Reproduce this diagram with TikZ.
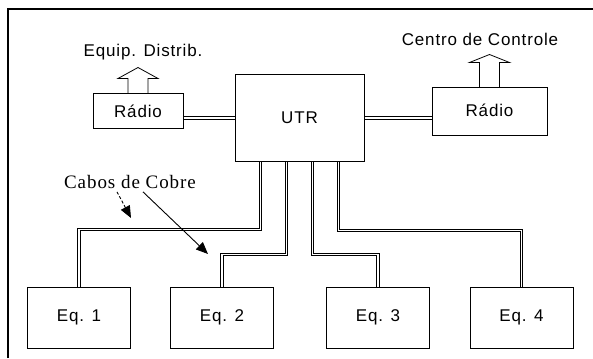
\documentclass[tikz,border=0pt]{standalone}
\usepackage{fontspec}
\setmainfont{Liberation Sans}
\newfontfamily\diagfont[LetterSpace=5]{Liberation Sans}
\newfontfamily\cobrefont[LetterSpace=5]{Liberation Serif}
\usepackage{tikz}
\usetikzlibrary{arrows.meta,positioning,calc}

\tikzset{
  box/.style={draw, line width=1pt, inner sep=0pt, font=\diagfont\fontsize{17}{19}\selectfont},
  eqbox/.style={box, minimum width=103pt, minimum height=61pt},
  cable/.style={draw, line width=0.8pt, double, double distance=1.6pt},
  hollow/.style={draw, line width=0.8pt, line join=miter},
  pointer/.style={line width=0.9pt, -{Triangle[length=12pt,width=10pt]}},
  lbl/.style={font=\diagfont\fontsize{17}{19}\selectfont, inner sep=0pt}
}

\begin{document}
\begin{tikzpicture}[x=1pt, y=-1pt]
\useasboundingbox (0,0) rectangle (593,358);
% frame
\draw[line width=1.3pt] (8,358) -- (8,9) -- (593,9);

% central unit and radios
\node[box, minimum width=129pt, minimum height=86pt] (utr) at (299.5,118) {UTR};
\node[box, minimum width=90pt, minimum height=35pt] (radioA) at (138,111.5) {Rádio};
\node[box, minimum width=115pt, minimum height=48pt] (radioB) at (489.5,112) {\raisebox{4pt}{Rádio}};

% hollow arrows
\draw[hollow] ([xshift=-10pt]radioA.north) -- ++(0,-15) -- ++(-10,0) -- ++(20,-11)
  -- ++(20,11) -- ++(-10,0) -- ([xshift=10pt]radioA.north);
\draw[hollow] ([xshift=-10pt]radioB.north) -- ++(0,-25) -- ++(-10,0) -- ++(20,-8)
  -- ++(20,8) -- ++(-10,0) -- ([xshift=10pt]radioB.north);
\node[lbl] (equip) at (143,52) {Equip. Distrib.};
\node[lbl] (centro) at (480,39) {Centro de Controle};

% links to radios
\draw[cable] (radioA.east |- utr.west) -- (utr.west);
\draw[cable] (utr.east) -- (utr.east -| radioB.west);

% equipment
\node[eqbox] (eq1) at (79,317.5) {Eq. 1};
\node[eqbox] (eq2) at (222,317.5) {Eq. 2};
\node[eqbox] (eq3) at (378,317.5) {Eq. 3};
\node[eqbox] (eq4) at (521.5,317.5) {Eq. 4};

% copper cables
\draw[cable] ([xshift=26pt]utr.south west) |- ([yshift=57pt]eq1.north) -- (eq1.north);
\draw[cable] ([xshift=52pt]utr.south west) |- ([yshift=32pt]eq2.north) -- (eq2.north);
\draw[cable] ([xshift=78pt]utr.south west) |- ([yshift=32pt]eq3.north) -- (eq3.north);
\draw[cable] ([xshift=104pt]utr.south west) |- ([yshift=56pt]eq4.north) -- (eq4.north);

% label for the cables
\node[inner sep=0pt, font=\cobrefont\fontsize{19}{21}\selectfont] (cabos) at (130,182) {Cabos de Cobre};
\coordinate (tipA) at (131,218);
\coordinate (tipB) at (208,254);
\draw[pointer, dash pattern=on 3pt off 2pt] ([xshift=-13pt,yshift=-3pt]cabos.south) -- (tipA);
\draw[pointer] ([xshift=13pt,yshift=-3pt]cabos.south) -- (tipB);
\end{tikzpicture}
\end{document}
